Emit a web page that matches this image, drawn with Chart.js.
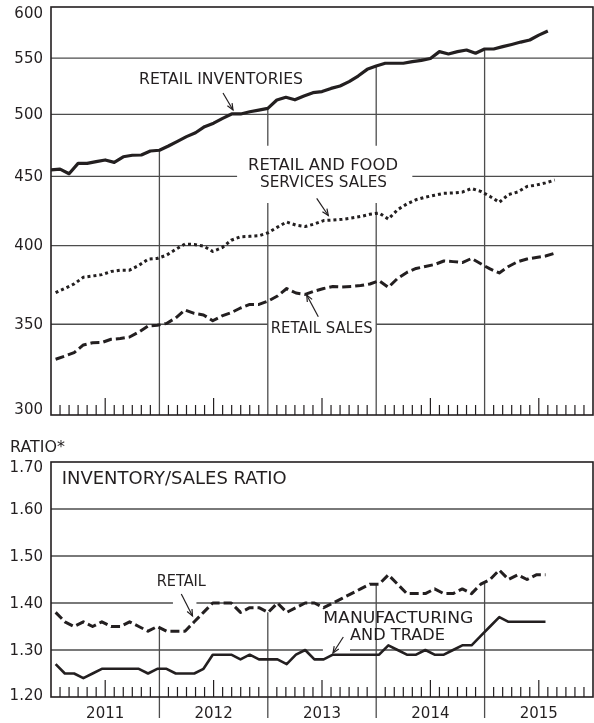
<!DOCTYPE html>
<html>
<head>
<meta charset="utf-8">
<script src="https://cdn.jsdelivr.net/npm/chart.js@4.4.1/dist/chart.umd.min.js"></script>
<style>
  html, body { margin: 0; padding: 0; background: #fff; }
  #wrap { position: relative; width: 594px; height: 723px; }
  canvas { position: absolute; left: 0; }
  #levels { top: 0; }
  #ratios { top: 430px; }
</style>
</head>
<body>
<div id="wrap">
  <canvas id="levels" width="594" height="430"></canvas>
  <canvas id="ratios" width="594" height="293"></canvas>
</div>
<script>
// --- data (billions of dollars, log scale; ratios below) ---
const years = ['2011', '2012', '2013', '2014', '2015'];
const levelTicks = [300, 350, 400, 450, 500, 550, 600];
const ratioTicks = [1.20, 1.30, 1.40, 1.50, 1.60, 1.70];

// end-of-month stocks, Dec 2010 .. Jul 2015
const retailInventories = [455, 455.5, 452, 460, 460, 461.4, 462.7, 460.8, 465.2, 466.4,
  466.6, 469.8, 470.4, 473.8, 477.6, 481.4, 484.6, 489.6, 492.5, 496.6,
  500.3, 500.3, 502.2, 503.6, 505.1, 512.3, 514.7, 512.5, 515.8, 518.7,
  519.7, 522.5, 524.6, 528.6, 533.6, 539.7, 542.8, 545.3, 545.3, 545.3,
  546.8, 548, 549.7, 556.2, 554, 556.2, 557.7, 554.7, 558.7, 558.7,
  560.9, 563, 565.3, 567.3, 572, 576];

// monthly sales, Jan 2011 .. Jul 2015
const retailFoodSales = [369.3, 372.0, 374.8, 379.1, 379.9, 380.8, 382.8, 383.7, 383.7, 386.8,
  390.9, 391.4, 393.6, 397.5, 401.1, 400.8, 399.7, 396.1, 398.6, 403.7,
  406.1, 406.4, 406.8, 408.9, 412.8, 416.4, 414.2, 413.2, 415.0, 417.4,
  417.8, 418.3, 419.2, 420.3, 421.9, 422.8, 418.5, 425.2, 429.4, 432.5,
  434.3, 435.8, 437.2, 437.5, 438.1, 440.8, 438.6, 434.9, 430.6, 436.3,
  438.2, 442.3, 443.4, 445.0, 447.2];

const retailSales = [329.8, 331.6, 333.5, 337.9, 339.2, 339.3, 341.2, 341.6, 342.5, 345.4,
  349.0, 349.4, 350.5, 353.8, 358.6, 356.5, 355.6, 352.1, 355.0, 357.0,
  359.8, 362.0, 362.0, 364.1, 367.2, 371.9, 369.1, 368.2, 370.3, 371.9,
  373.2, 372.9, 373.2, 373.8, 374.8, 376.9, 372.7, 378.4, 382.2, 384.8,
  386.1, 387.4, 389.7, 389.3, 388.7, 391.4, 387.9, 384.5, 381.9, 386.1,
  389.3, 391.0, 392.0, 393.0, 394.9];

// inventory/sales ratios, Jan 2011 .. Jun 2015
const retailRatio = [1.38, 1.36, 1.35, 1.36, 1.35, 1.36, 1.35, 1.35, 1.36, 1.35,
  1.34, 1.35, 1.34, 1.34, 1.34, 1.36, 1.38, 1.40, 1.40, 1.40,
  1.38, 1.39, 1.39, 1.38, 1.40, 1.38, 1.39, 1.40, 1.40, 1.39,
  1.40, 1.41, 1.42, 1.43, 1.44, 1.44, 1.46, 1.44, 1.42, 1.42,
  1.42, 1.43, 1.42, 1.42, 1.43, 1.42, 1.44, 1.45, 1.47, 1.45,
  1.46, 1.45, 1.46, 1.46];

const mfgTradeRatio = [1.27, 1.25, 1.25, 1.24, 1.25, 1.26, 1.26, 1.26, 1.26, 1.26,
  1.25, 1.26, 1.26, 1.25, 1.25, 1.25, 1.26, 1.29, 1.29, 1.29,
  1.28, 1.29, 1.28, 1.28, 1.28, 1.27, 1.29, 1.30, 1.28, 1.28,
  1.29, 1.29, 1.29, 1.29, 1.29, 1.29, 1.31, 1.30, 1.29, 1.29,
  1.30, 1.29, 1.29, 1.30, 1.31, 1.31, 1.33, 1.35, 1.37, 1.36,
  1.36, 1.36, 1.36, 1.36];

// --- look ---
const INK = '#231f20';
const GRID = '#4d4d4d';
const FAMILY = '"DejaVu Sans", sans-serif';
const FONT = '15px ' + FAMILY;
const levelGaps = { 350: [24, 36], 450: [20.6, 40] };   // breaks in grid lines (months)
const ratioGaps = { 1.4: [13.5, 16.1], 1.3: [30.1, 33.1] };

const pts = arr => arr.map((v, i) => ({ x: i, y: v }));

function seg(ctx, x1, y1, x2, y2) {
  ctx.beginPath(); ctx.moveTo(x1, y1); ctx.lineTo(x2, y2); ctx.stroke();
}

function arrow(ctx, x1, y1, x2, y2) {
  ctx.lineWidth = 1.2;
  seg(ctx, x1, y1, x2, y2);
  const a = Math.atan2(y2 - y1, x2 - x1), h = 7;
  ctx.beginPath();
  ctx.moveTo(x2 - h * Math.cos(a - 0.4), y2 - h * Math.sin(a - 0.4));
  ctx.lineTo(x2, y2);
  ctx.lineTo(x2 - h * Math.cos(a + 0.4), y2 - h * Math.sin(a + 0.4));
  ctx.stroke();
}

function text(ctx, s, x, y, align) {
  ctx.textAlign = align || 'left';
  ctx.fillText(s, x, y);
}

// annotation text squeezed/stretched to the width it takes in the original
function label(ctx, s, x, y, w, size, align) {
  ctx.save();
  ctx.font = size + 'px ' + FAMILY;
  const sx = w / ctx.measureText(s).width;
  ctx.translate(x, y);
  ctx.scale(sx, 1);
  ctx.textAlign = align || 'left';
  ctx.fillText(s, 0, 0);
  ctx.restore();
}

function monthTicks(ctx, x, a) {
  for (let m = 1; m < 60; m++) {
    if (m % 12 === 0) continue;
    const px = x.getPixelForValue(m);
    seg(ctx, px, a.bottom, px, a.bottom - (m % 12 === 6 ? 17 : 10));
  }
}

function hGrid(ctx, a, x, py, gap) {
  if (gap) {
    seg(ctx, a.left, py, x.getPixelForValue(gap[0]), py);
    seg(ctx, x.getPixelForValue(gap[1]), py, a.right, py);
  } else {
    seg(ctx, a.left, py, a.right, py);
  }
}

const levelDecor = {
  id: 'levelDecor',
  beforeDatasetsDraw(chart) {
    const { ctx, chartArea: a, scales: { x, y } } = chart;
    ctx.save();
    ctx.strokeStyle = GRID;
    ctx.lineWidth = 1.3;
    levelTicks.slice(1, -1).forEach(v => hGrid(ctx, a, x, y.getPixelForValue(v), levelGaps[v]));

    // year boundaries hang from the inventories line
    for (let j = 1; j < years.length; j++) {
      const m = 12 * j, px = x.getPixelForValue(m);
      const top = y.getPixelForValue(retailInventories[m]);
      if (j === 2 || j === 3) {
        seg(ctx, px, top, px, y.getPixelForValue(474));
        seg(ctx, px, y.getPixelForValue(430), px, a.bottom);
      } else {
        seg(ctx, px, top, px, a.bottom);
      }
    }
    ctx.strokeStyle = INK;
    ctx.lineWidth = 1.2;
    monthTicks(ctx, x, a);
    ctx.lineWidth = 1.6;
    ctx.strokeRect(a.left, a.top, a.right - a.left, a.bottom - a.top);
    ctx.restore();
  },
  afterDraw(chart) {
    const { ctx, scales: { y } } = chart;
    ctx.save();
    ctx.fillStyle = INK;
    ctx.strokeStyle = INK;
    ctx.font = FONT;
    ctx.textBaseline = 'middle';
    levelTicks.forEach(v => {
      const off = v === 600 ? 7.5 : v === 300 ? -5 : 0.8;
      text(ctx, String(v), 43, y.getPixelForValue(v) + off, 'right');
    });
    label(ctx, 'RETAIL INVENTORIES', 139, 80, 164, 15.5);
    arrow(ctx, 223, 93, 233, 110);
    label(ctx, 'RETAIL AND FOOD', 323, 166, 150, 15.5, 'center');
    label(ctx, 'SERVICES SALES', 323.5, 183, 127, 15.5, 'center');
    arrow(ctx, 316.7, 198.3, 328.3, 215.5);
    label(ctx, 'RETAIL SALES', 321.7, 329, 102, 15.5, 'center');
    arrow(ctx, 318.3, 316.7, 306.7, 295);
    ctx.restore();
  }
};

const ratioDecor = {
  id: 'ratioDecor',
  beforeDatasetsDraw(chart) {
    const { ctx, chartArea: a, scales: { x, xs, y } } = chart;
    ctx.save();
    ctx.strokeStyle = GRID;
    ctx.lineWidth = 1.3;
    ratioTicks.slice(1, -1).forEach(v => hGrid(ctx, a, x, y.getPixelForValue(v), ratioGaps[v]));

    // year boundaries hang from the retail ratio line and run below the axis
    for (let j = 1; j < years.length; j++) {
      const px = x.getPixelForValue(12 * j);
      const f = xs.getValueForPixel(px), i = Math.floor(f), t = f - i;
      const v = retailRatio[i] * (1 - t) + retailRatio[i + 1] * t;
      seg(ctx, px, y.getPixelForValue(v), px, a.bottom + 21);
    }
    ctx.strokeStyle = INK;
    ctx.lineWidth = 1.2;
    monthTicks(ctx, x, a);
    ctx.lineWidth = 1.6;
    ctx.strokeRect(a.left, a.top, a.right - a.left, a.bottom - a.top);
    ctx.restore();
  },
  afterDraw(chart) {
    const { ctx, chartArea: a, scales: { x, y } } = chart;
    ctx.save();
    ctx.fillStyle = INK;
    ctx.strokeStyle = INK;
    ctx.font = FONT;
    ctx.textBaseline = 'middle';
    ratioTicks.forEach(v => {
      const off = v === 1.7 ? 6.4 : v === 1.2 ? -1 : 0.8;
      text(ctx, v.toFixed(2), 43, y.getPixelForValue(v) + off, 'right');
    });
    years.forEach((yr, j) => text(ctx, yr, x.getPixelForValue(12 * j + 6), a.bottom + 17, 'center'));
    label(ctx, 'RATIO*', 10, 18, 55, 15.5);
    label(ctx, 'INVENTORY/SALES RATIO', 61.7, 50, 225, 17);
    label(ctx, 'RETAIL', 181.3, 151.5, 49.3, 15.5, 'center');
    arrow(ctx, 181.3, 164, 192.5, 186);
    label(ctx, 'MANUFACTURING', 398.3, 189, 150, 16, 'center');
    label(ctx, 'AND TRADE', 397.5, 206, 95, 16, 'center');
    arrow(ctx, 343.3, 207, 333, 223);
    ctx.restore();
  }
};

const lineBase = { pointRadius: 0, tension: 0, fill: false, borderColor: INK, borderJoinStyle: 'round' };
const xAxes = {
  x: { type: 'linear', min: 0, max: 60, display: false },      // calendar months
  xs: { type: 'linear', min: -0.5, max: 58.14, display: false } // monthly observations
};
const common = {
  responsive: false,
  animation: false,
  events: [],
  plugins: { legend: { display: false }, tooltip: { enabled: false } }
};

new Chart(document.getElementById('levels'), {
  type: 'line',
  data: {
    datasets: [
      { ...lineBase, label: 'Retail inventories', data: pts(retailInventories), xAxisID: 'x', borderWidth: 3.2 },
      { ...lineBase, label: 'Retail and food services sales', data: pts(retailFoodSales), xAxisID: 'xs',
        borderWidth: 3, borderDash: [3, 3] },
      { ...lineBase, label: 'Retail sales', data: pts(retailSales), xAxisID: 'xs',
        borderWidth: 3, borderDash: [9, 4] }
    ]
  },
  options: {
    ...common,
    layout: { padding: { left: 51, top: 7, right: 1, bottom: 15 } },
    scales: { ...xAxes, y: { type: 'logarithmic', min: 300, max: 600, display: false } }
  },
  plugins: [levelDecor]
});

new Chart(document.getElementById('ratios'), {
  type: 'line',
  data: {
    datasets: [
      { ...lineBase, label: 'Retail', data: pts(retailRatio), xAxisID: 'xs',
        borderWidth: 3, borderDash: [9, 4] },
      { ...lineBase, label: 'Manufacturing and trade', data: pts(mfgTradeRatio), xAxisID: 'xs', borderWidth: 2.6 }
    ]
  },
  options: {
    ...common,
    layout: { padding: { left: 51, top: 32, right: 1, bottom: 26 } },
    scales: { ...xAxes, y: { type: 'linear', min: 1.2, max: 1.7, display: false } }
  },
  plugins: [ratioDecor]
});
</script>
</body>
</html>
